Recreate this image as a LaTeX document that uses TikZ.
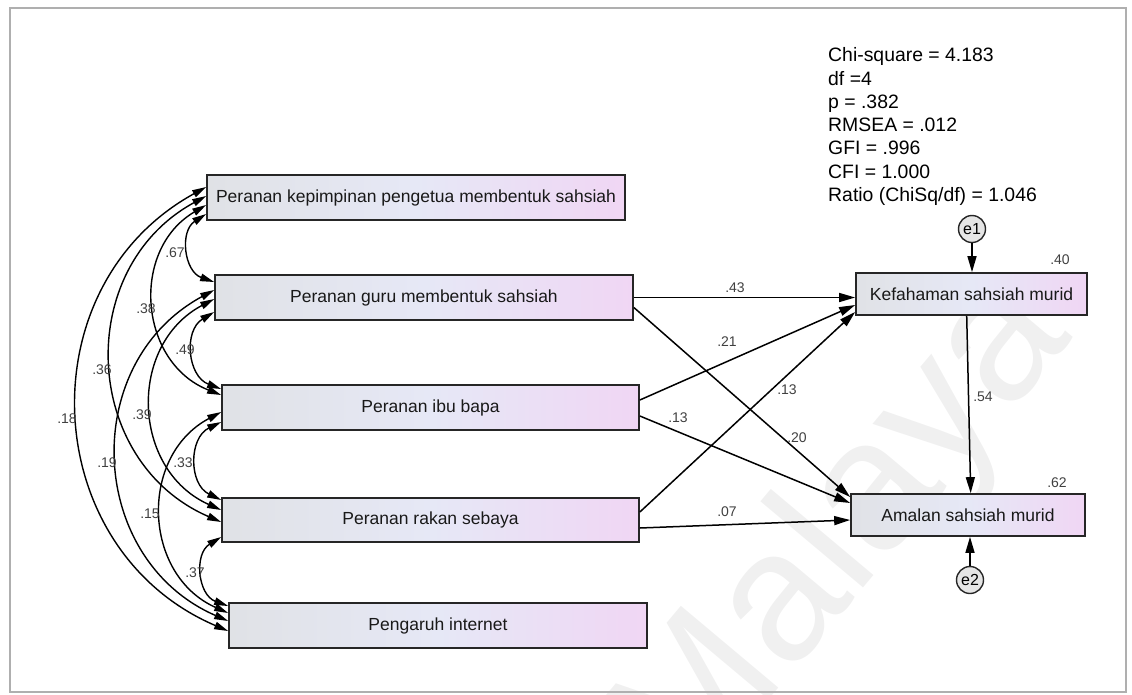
\documentclass[tikz,border=0pt]{standalone}
\usepackage{fontspec}
\setmainfont{Liberation Sans}
\usetikzlibrary{arrows.meta}
\definecolor{boxL}{RGB}{224,226,230}
\definecolor{boxM}{RGB}{230,232,246}
\definecolor{boxR}{RGB}{240,214,244}
\definecolor{framegray}{RGB}{175,175,175}
\begin{document}
\begin{tikzpicture}[x=1pt,y=1pt,
  varbox/.style={draw=black!85, line width=1.7pt, left color=boxL, right color=boxR, middle color=boxM,
                 minimum height=45pt, inner sep=0pt, text=black!90, font=\fontsize{17.5}{20}\selectfont},
  errc/.style={circle, draw=black!85, line width=1.4pt, fill=black!10, minimum size=27pt, inner sep=0pt,
               font=\fontsize{16}{18}\selectfont},
  reg/.style={line width=1.5pt, -{Triangle[length=16pt,width=9pt]}},
  cov/.style={line width=1.4pt, {Triangle[length=14pt,width=7.5pt]}-{Triangle[length=14pt,width=7.5pt]},
              bend right=64, looseness=1.19},
  coef/.style={inner sep=0pt, text=black!75, font=\fontsize{14}{16}\selectfont},
  stat/.style={anchor=base west, inner sep=0pt, font=\fontsize{19.4}{23}\selectfont}
]
\useasboundingbox (0,0) rectangle (1132,-694);
\clip (0,0) rectangle (1132,-694);

% background watermark and frame
\node[text=black!6, rotate=50, inner sep=0pt, font=\fontsize{185}{185}\selectfont] (wm) at (845,-535) {Malaya};
\draw[framegray, line width=1.5pt] (10,-8) rectangle (1126,-692);

% exogenous variables
\node[varbox, minimum width=418pt] (b1) at (416,-197.5) {Peranan kepimpinan pengetua membentuk sahsiah};
\node[varbox, minimum width=418pt] (b2) at (424,-297.5) {Peranan guru membentuk sahsiah};
\node[varbox, minimum width=417pt] (b3) at (430.5,-407.5) {Peranan ibu bapa};
\node[varbox, minimum width=417pt, minimum height=44pt] (b4) at (430.5,-520) {Peranan rakan sebaya};
\node[varbox, minimum width=418pt] (b5) at (438,-625.5) {Pengaruh internet};

% endogenous variables and residuals
\node[varbox, minimum width=231pt, minimum height=42pt] (kef) at (971.5,-294) {Kefahaman sahsiah murid};
\node[varbox, minimum width=234pt, minimum height=42pt] (am) at (968,-515) {Amalan sahsiah murid};
\node[errc] (e1) at (972,-229) {e1};
\node[errc] (e2) at (970,-580) {e2};

% fit statistics
\foreach \t [count=\i from 0] in {Chi-square = 4.183, df =4, p = .382, RMSEA = .012, GFI = .996, CFI = 1.000, Ratio (ChiSq/df) = 1.046}
  \node[stat] (fit\i) at (828,{-61.7-23.3*\i}) {\t};

% regression paths
\draw[reg] (b2.east) -- (b2.east -| kef.west);
\draw[reg] ([yshift=-10pt]b2.east) -- ([yshift=18pt]am.west);
\draw[reg] ([yshift=7.5pt]b3.east) -- ([yshift=-11pt]kef.west);
\draw[reg] ([yshift=-8.5pt]b3.east) -- ([yshift=12pt]am.west);
\draw[reg] ([yshift=8pt]b4.east) -- ([yshift=-18pt]kef.west);
\draw[reg] ([yshift=-8pt]b4.east) -- ([yshift=-5pt]am.west);
\draw[reg] ([xshift=-4.8pt]kef.south) -- ([xshift=2.7pt]am.north);
\draw[reg] (e1) -- (e1 |- kef.north);
\draw[reg] (e2) -- (e2 |- am.south);

% covariances among the exogenous variables
\draw[cov] ([yshift=-16.5pt]b1.west) to ([yshift=15.5pt]b2.west);
\draw[cov] ([yshift=-14.5pt]b2.west) to ([yshift=18.5pt]b3.west);
\draw[cov] ([yshift=-14.5pt]b3.west) to ([yshift=20pt]b4.west);
\draw[cov] ([yshift=-17pt]b4.west) to ([yshift=19.5pt]b5.west);
\draw[cov] ([yshift=-7.5pt]b1.west) to ([yshift=12.5pt]b3.west);
\draw[cov] ([yshift=-1.5pt]b2.west) to ([yshift=10pt]b4.west);
\draw[cov] ([yshift=1.5pt]b1.west) to ([yshift=-2pt]b4.west);
\draw[cov] ([yshift=7.5pt]b2.west) to ([yshift=4.5pt]b5.west);
\draw[cov] ([yshift=-4.5pt]b3.west) to ([yshift=12.5pt]b5.west);
\draw[cov] ([yshift=10.5pt]b1.west) to ([yshift=-5.5pt]b5.west);

% covariance estimates
\node[coef] (c12) at (175,-253) {.67};
\node[coef] (c13) at (146,-309) {.38};
\node[coef] (c23) at (185,-350) {.49};
\node[coef] (c14) at (102,-370) {.36};
\node[coef] (c15) at (67,-419) {.18};
\node[coef] (c24) at (142,-415) {.39};
\node[coef] (c25) at (107,-463) {.19};
\node[coef] (c34) at (183,-463) {.33};
\node[coef] (c35) at (150,-514) {.15};
\node[coef] (c45) at (195,-573) {.37};

% path coefficients and squared multiple correlations
\node[coef] (p2k) at (735,-288) {.43};
\node[coef] (p3k) at (727,-342) {.21};
\node[coef] (p3a) at (678,-418) {.13};
\node[coef] (p4k) at (787,-390) {.13};
\node[coef] (p2a) at (797,-438) {.20};
\node[coef] (p4a) at (727,-512) {.07};
\node[coef] (pka) at (983,-397) {.54};
\node[coef] (r2k) at (1060,-260) {.40};
\node[coef] (r2a) at (1057,-483) {.62};
\end{tikzpicture}
\end{document}
